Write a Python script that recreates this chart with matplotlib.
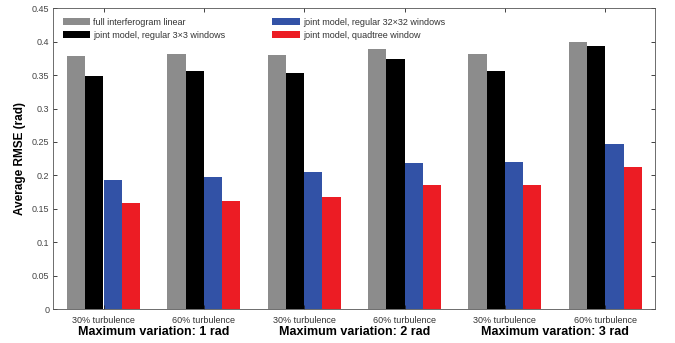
import matplotlib
matplotlib.use("Agg")
import matplotlib.pyplot as plt
import numpy as np

plt.rcParams['font.family'] = ['Liberation Sans', 'DejaVu Sans']

turbulence = ["30% turbulence", "60% turbulence"] * 3
groups = ["Maximum variation: 1 rad", "Maximum variation: 2 rad", "Maximum varation: 3 rad"]
series_names = ["full interferogram linear", "joint model, regular 3×3 windows",
                "joint model, regular 32×32 windows", "joint model, quadtree window"]
full_linear = [0.378, 0.381, 0.380, 0.389, 0.382, 0.399]
joint_3x3 = [0.349, 0.356, 0.353, 0.374, 0.356, 0.393]
joint_32x32 = [0.193, 0.197, 0.205, 0.219, 0.220, 0.247]
joint_quadtree = [0.158, 0.162, 0.168, 0.185, 0.186, 0.212]
colors = ["#8c8c8c", "#000000", "#3252a6", "#ec1c24"]

fig = plt.figure(figsize=(6.75, 3.43), dpi=100)
ax = fig.add_axes([0.079, 0.099, 0.892, 0.877])

x = np.arange(1, 7)
w = 0.182
allvals = [full_linear, joint_3x3, joint_32x32, joint_quadtree]
for i, (vals, c, name) in enumerate(zip(allvals, colors, series_names)):
    ax.bar(x + (i - 1.5) * w, vals, width=w, color=c, label=name, linewidth=0)

ax.set_xlim(0.5, 6.5)
ax.set_ylim(0, 0.45)
ax.set_yticks(np.arange(0, 0.451, 0.05))
ax.set_yticklabels(["0", "0.05", "0.1", "0.15", "0.2", "0.25", "0.3", "0.35", "0.4", "0.45"])
ax.set_xticks(x)
ax.set_xticklabels(turbulence)
ax.tick_params(axis='both', direction='in', length=3, width=0.6, top=True, right=True,
               labelsize=6.5, colors='#222222', labelcolor='#444444', pad=3)
ax.tick_params(axis='x', labelcolor='#333333', pad=5)
for s in ax.spines.values():
    s.set_linewidth(0.6)
    s.set_color('#555555')

ax.set_ylabel("Average RMSE (rad)", fontsize=8.5, fontweight='bold', labelpad=4)

for gi, g in enumerate(groups):
    ax.text(1.5 + 2 * gi, -0.034, g, ha='center', va='center', fontsize=9,
            fontweight='bold', transform=ax.transData, clip_on=False)

leg = ax.legend(ncol=2, loc='upper left', bbox_to_anchor=(0.005, 0.99), frameon=False,
                fontsize=6.5, handlelength=3.0, handleheight=0.9, columnspacing=5.2,
                labelspacing=0.45, handletextpad=0.4, borderaxespad=0.3)
for t in leg.get_texts():
    t.set_color('#333333')

fig.savefig("out.png", dpi=100, facecolor='white')
